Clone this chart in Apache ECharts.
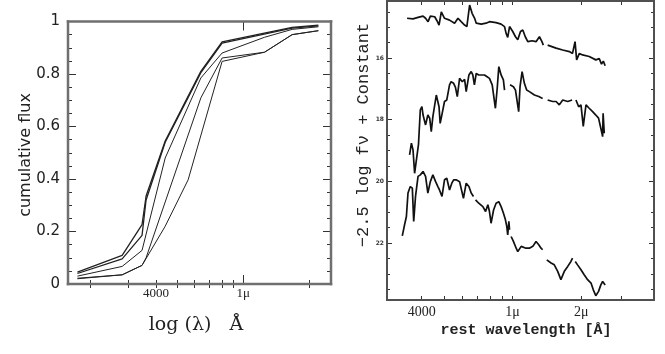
<!DOCTYPE html>
<html>
<head>
<meta charset="utf-8">
<script src="https://cdn.jsdelivr.net/npm/echarts@6/dist/echarts.min.js"></script>
<style>
html, body { margin: 0; padding: 0; background: #fff; }
#main { width: 665px; height: 354px; }
</style>
</head>
<body>
<div id="main"></div>
<script>
// left panel: cumulative flux against wavelength (Å)
var lamA = [1750, 2800, 3450, 3600, 4400, 6400, 8000, 16700, 22000];
var fluxA = [0.045, 0.109, 0.226, 0.335, 0.545, 0.81, 0.922, 0.978, 0.986];
var lamB = [1750, 2800, 3450, 3600, 4400, 6400, 8000, 16700, 22000];
var fluxB = [0.04, 0.096, 0.185, 0.32, 0.54, 0.805, 0.918, 0.975, 0.983];
var lamC = [1750, 2800, 3450, 4400, 6400, 8000, 12500, 16700, 22000];
var fluxC = [0.03, 0.067, 0.128, 0.48, 0.785, 0.88, 0.94, 0.97, 0.98];
var lamD = [1750, 2800, 3450, 3600, 6400, 8000, 12500, 16700, 22000];
var fluxD = [0.022, 0.035, 0.071, 0.10, 0.709, 0.861, 0.883, 0.95, 0.965];
var lamE = [1750, 2800, 3450, 4400, 5600, 8000, 12500, 16700, 22000];
var fluxE = [0.02, 0.035, 0.071, 0.22, 0.397, 0.848, 0.883, 0.95, 0.965];

// right panel: spectra, log10(lambda/Å) and magnitude, null = gap
var topLog = [3.538, 3.564, 3.586, 3.608, 3.619, 3.630, 3.640, 3.659, 3.669, 3.678, 3.688, 3.702, 3.724, 3.746, 3.761, 3.775,
  3.790, 3.800, 3.812, 3.823, 3.834, 3.841, 3.848, 3.863, 3.884, 3.899, 3.928, 3.950, 3.965, 3.972, 3.979, 3.987,
  4.001, 4.013, 4.023, 4.035, 4.045, 4.056, 4.067, 4.086, 4.103, 4.118, 4.129, 4.135, null,
  4.154, 4.191, 4.220, 4.249, 4.263, 4.274, 4.281, 4.293, 4.307, 4.336, 4.365, 4.380, 4.390, 4.398, 4.406];
var topMag = [14.71, 14.73, 14.68, 14.64, 14.71, 14.82, 14.64, 14.66, 14.79, 14.93, 14.50, 14.71, 14.77, 14.87, 14.71, 14.82,
  14.93, 14.98, 14.28, 14.55, 14.71, 14.87, 14.82, 14.90, 14.87, 14.82, 14.85, 14.90, 14.98, 15.20, 15.33, 14.98,
  15.14, 15.31, 15.41, 15.14, 15.09, 15.31, 15.47, 15.44, 15.47, 15.31, 15.47, 15.58, null,
  15.58, 15.68, 15.74, 15.79, 15.85, 15.47, 16.06, 15.85, 15.90, 15.95, 16.06, 16.02, 16.20, 16.10, 16.25];

var midLog = [3.549, 3.557, 3.564, 3.571, 3.578, 3.588, 3.596, 3.603, 3.608, 3.619, 3.629, 3.637, 3.644, 3.651,
  3.666, 3.678, 3.683, 3.692, 3.702, 3.712, 3.724, 3.731, 3.742, 3.750, 3.758, 3.768, 3.780, 3.790, 3.797, 3.809,
  3.819, 3.826, 3.833, 3.841, 3.852, 3.867, 3.877, 3.887, 3.899, 3.911, 3.925, 3.933, 3.940, 3.950, 3.960, 3.965, null,
  3.989, 4.004, 4.013, 4.027, 4.033, 4.042, 4.052, 4.062, 4.074, 4.096, 4.115, 4.132, null,
  4.154, 4.176, 4.191, 4.205, 4.220, 4.242, 4.261, null,
  4.278, 4.290, 4.300, 4.310, 4.322, 4.336, 4.351, 4.365, 4.377, 4.387, 4.395, 4.397, 4.402];
var midMag = [19.14, 18.76, 18.98, 19.74, 19.68, 18.80, 17.68, 17.58, 17.85, 18.17, 17.85, 17.95, 18.39, 17.90,
  17.20, 17.58, 18.12, 17.79, 17.41, 17.36, 16.87, 16.77, 16.82, 16.95, 17.25, 16.66, 16.77, 16.69, 17.09, 16.55,
  16.44, 16.55, 16.87, 16.50, 16.55, 16.55, 16.55, 16.60, 16.66, 16.87, 17.63, 16.98, 16.28, 16.55, 16.71, 17.04, null,
  16.87, 16.93, 17.04, 17.74, 16.93, 16.44, 16.82, 17.04, 17.09, 17.20, 17.25, 17.31, null,
  17.36, 17.41, 17.41, 17.52, 17.36, 17.41, 17.36, null,
  17.36, 17.58, 17.52, 18.22, 17.52, 17.63, 17.74, 17.85, 17.95, 18.28, 18.55, 17.79, 18.44];

var lowLog = [3.517, 3.527, 3.535, 3.542, 3.552, 3.561, 3.567, 3.575, 3.586, 3.596, 3.608, 3.619, 3.629, 3.640, 3.651, 3.663,
  3.673, 3.680, 3.691, 3.702, 3.712, 3.724, 3.734, 3.742, 3.753, 3.768, 3.775, 3.785, 3.797, 3.809, 3.819, 3.829, null,
  3.838, 3.852, 3.870, 3.882, 3.892, 3.899, 3.906, 3.917, 3.928, 3.940, 3.950, 3.960, 3.969, 3.975, 3.979, 3.984, 3.987, null,
  3.994, 4.004, 4.016, 4.023, 4.038, 4.059, 4.074, 4.089, 4.103, 4.115, 4.125, 4.132, null,
  4.150, 4.169, 4.183, 4.198, 4.212, 4.227, 4.242, 4.256, 4.263, null,
  4.275, 4.285, 4.300, 4.314, 4.329, 4.344, 4.354, 4.365, 4.377, 4.387, 4.395, 4.406];
var lowMag = [21.77, 21.41, 21.14, 20.38, 20.17, 20.22, 21.30, 20.49, 19.84, 19.79, 19.68, 19.84, 20.38, 20.01, 19.79, 20.01,
  20.17, 20.28, 20.49, 19.95, 19.90, 20.28, 20.06, 19.95, 19.95, 20.01, 20.06, 20.55, 20.06, 20.17, 20.38, 20.49, null,
  20.60, 20.71, 20.82, 20.98, 20.76, 20.98, 21.36, 20.93, 20.71, 20.66, 20.82, 21.03, 21.25, 21.47, 21.74, 21.30, 21.57, null,
  21.79, 21.95, 22.17, 22.28, 22.11, 22.17, 22.17, 22.11, 21.95, 22.06, 22.17, 22.22, null,
  22.55, 22.65, 22.71, 22.92, 23.19, 22.92, 22.76, 22.60, 22.49, null,
  22.60, 22.71, 22.87, 23.03, 23.19, 23.30, 23.52, 23.71, 23.57, 23.36, 23.25, 23.36];

// ticks
var leftTickLam = [2000, 3000, 4000, 5000, 6000, 7000, 8000, 9000, 20000];
var leftLongTickLam = [10000];
var leftLabelLam = [4000, 10000];
var leftLabelText = ['4000', '1μ'];
var rightTickLam = [4000, 5000, 6000, 7000, 8000, 9000, 10000, 20000, 30000];
var rightLabelLam = [4000, 10000, 20000];
var rightLabelText = ['4000', '1μ', '2μ'];
var magTicks = [16, 18, 20, 22];
var magMinorTicks = [14.5, 15, 15.5, 16.5, 17, 17.5, 18.5, 19, 19.5, 20.5, 21, 21.5, 22.5, 23, 23.5];

// axis ranges and panel boxes
var leftX = [3.2, 4.4], leftY = [0, 1];
var rightX = [3.45, 4.62], rightY = [14.15, 23.85];
var leftBox = { left: 68, top: 21.5, width: 263, height: 262.5 };
var rightBox = { left: 387, top: 1, width: 267, height: 299 };

function logs(arr) { return arr.map(function (v) { return Math.log10(v); }); }
function pairs(lams, vals) { return lams.map(function (l, i) { return [Math.log10(l), vals[i]]; }); }
function segments(xs, ys) {
  var out = [], cur = [];
  xs.forEach(function (x, i) {
    if (x === null || ys[i] === null) { if (cur.length) out.push(cur); cur = []; }
    else cur.push([x, ys[i]]);
  });
  if (cur.length) out.push(cur);
  return out;
}
function labeler(lams, texts) {
  return function (v) {
    for (var i = 0; i < lams.length; i++) {
      if (Math.abs(Math.log10(lams[i]) - v) < 1e-6) return texts[i];
    }
    return '';
  };
}

var tickColor = '#333';
var serif = 'Liberation Serif';

// all axes sit on the bottom/left side; the opposite-edge copies are shifted with a negative offset
// and keep their ticks "outside", which then points into the plot
function xTicks(grid, vals, len, range, opposite, box) {
  return {
    type: 'value', gridIndex: grid, position: 'bottom', offset: opposite ? -box.height : 0,
    min: range[0], max: range[1],
    axisLine: { show: false }, splitLine: { show: false },
    axisTick: { inside: !opposite, length: len, customValues: logs(vals), lineStyle: { color: tickColor, width: 1 } },
    axisLabel: { show: false }
  };
}

var xAxes = [
  // left panel
  {
    type: 'value', gridIndex: 0, position: 'bottom', min: leftX[0], max: leftX[1],
    axisLine: { show: false }, splitLine: { show: false },
    axisTick: { inside: true, length: 4, customValues: logs(leftTickLam), lineStyle: { color: tickColor, width: 1 } },
    axisLabel: {
      customValues: logs(leftLabelLam), formatter: labeler(leftLabelLam, leftLabelText),
      margin: 3, fontFamily: serif, fontSize: 13, color: '#222'
    }
  },
  xTicks(0, leftTickLam, 4, leftX, true, leftBox),
  xTicks(0, leftLongTickLam, 9, leftX, false, leftBox),
  xTicks(0, leftLongTickLam, 9, leftX, true, leftBox),
  // right panel
  {
    type: 'value', gridIndex: 1, position: 'bottom', min: rightX[0], max: rightX[1],
    axisLine: { show: false }, splitLine: { show: false },
    axisTick: { inside: true, length: 4, customValues: logs(rightTickLam), lineStyle: { color: tickColor, width: 1 } },
    axisLabel: {
      customValues: logs(rightLabelLam), formatter: labeler(rightLabelLam, rightLabelText),
      margin: 5, fontFamily: serif, fontSize: 14, color: '#222'
    }
  },
  xTicks(1, rightTickLam, 4, rightX, true, rightBox)
];

function magAxis(vals, len, label, opposite) {
  return {
    type: 'value', gridIndex: 1, position: 'left', offset: opposite ? -rightBox.width : 0,
    inverse: true, min: rightY[0], max: rightY[1],
    axisLine: { show: false }, splitLine: { show: false },
    axisTick: { inside: !opposite, length: len, customValues: vals, lineStyle: { color: tickColor, width: 1 } },
    axisLabel: label ? {
      customValues: vals, margin: 3, fontSize: 6, fontWeight: 'bold', color: '#333', fontFamily: 'DejaVu Sans'
    } : { show: false }
  };
}

function fluxAxis(label, opposite) {
  return {
    type: 'value', gridIndex: 0, position: 'left', offset: opposite ? -leftBox.width : 0,
    min: leftY[0], max: leftY[1], interval: 0.2,
    axisLine: { show: false }, splitLine: { show: false },
    axisTick: { inside: !opposite, length: 8, lineStyle: { color: tickColor, width: 1 } },
    minorTick: { show: true, splitNumber: 4, length: 4, lineStyle: { color: tickColor, width: 1 } },
    axisLabel: label ? { margin: 8, fontFamily: 'DejaVu Sans', fontSize: 15, color: '#222' } : { show: false }
  };
}

var yAxes = [
  fluxAxis(true, false),
  fluxAxis(false, true),
  magAxis(magTicks, 5, true, false),
  magAxis(magMinorTicks, 3, false, false),
  magAxis(magTicks, 5, false, true),
  magAxis(magMinorTicks, 3, false, true)
];

// panel outline: one stroke per side, through the axes at the range corners
function frameSides(xi, yi, xr, yr, color, w) {
  var sides = [
    [[xr[0], yr[1]], [xr[1], yr[1]]],
    [[xr[1], yr[0]], [xr[1], yr[1]]],
    [[xr[0], yr[0]], [xr[1], yr[0]]],
    [[xr[0], yr[0]], [xr[0], yr[1]]]
  ];
  return sides.map(function (d) {
    return {
      type: 'line', xAxisIndex: xi, yAxisIndex: yi, clip: false, z: 50,
      data: d, showSymbol: false, animation: false, silent: true,
      lineStyle: { color: color, width: w, cap: 'square' }
    };
  });
}

var series = frameSides(0, 0, leftX, leftY, '#6f6f6f', 2.5).concat(frameSides(4, 2, rightX, rightY, '#505050', 2));
[[lamA, fluxA, 1.3], [lamB, fluxB, 1.3], [lamC, fluxC, 1], [lamD, fluxD, 1], [lamE, fluxE, 1]].forEach(function (c) {
  series.push({
    type: 'line', xAxisIndex: 0, yAxisIndex: 0, data: pairs(c[0], c[1]),
    showSymbol: false, animation: false, silent: true,
    lineStyle: { color: '#222', width: c[2] }
  });
});
[[topLog, topMag], [midLog, midMag], [lowLog, lowMag]].forEach(function (s) {
  segments(s[0], s[1]).forEach(function (seg) {
    series.push({
      type: 'line', xAxisIndex: 4, yAxisIndex: 2, data: seg,
      showSymbol: false, animation: false, silent: true,
      lineStyle: { color: '#111', width: 1.7 }
    });
  });
});

var chart = echarts.init(document.getElementById('main'));
chart.setOption({
  backgroundColor: '#fff',
  animation: false,
  grid: [
    { left: leftBox.left, top: leftBox.top, width: leftBox.width, height: leftBox.height },
    { left: rightBox.left, top: rightBox.top, width: rightBox.width, height: rightBox.height }
  ],
  xAxis: xAxes,
  yAxis: yAxes,
  series: series,
  graphic: [
    {
      type: 'text', x: 26, y: 155, rotation: Math.PI / 2,
      style: { text: 'cumulative flux', font: '16px "DejaVu Sans"', fill: '#222', textAlign: 'center', textVerticalAlign: 'middle' }
    },
    {
      type: 'text', x: 196, y: 325,
      style: { text: 'log (λ)   Å', font: '19px "DejaVu Serif"', fill: '#222', textAlign: 'center', textVerticalAlign: 'middle' }
    },
    {
      type: 'text', x: 363, y: 135, rotation: Math.PI / 2,
      style: { text: '−2.5 log fν + Constant', font: '17px "Liberation Mono"', fill: '#222', textAlign: 'center', textVerticalAlign: 'middle' }
    },
    {
      type: 'text', x: 526, y: 330,
      style: { text: 'rest wavelength [Å]', font: 'bold 15px "Liberation Mono"', fill: '#222', textAlign: 'center', textVerticalAlign: 'middle' }
    }
  ]
});
</script>
</body>
</html>
